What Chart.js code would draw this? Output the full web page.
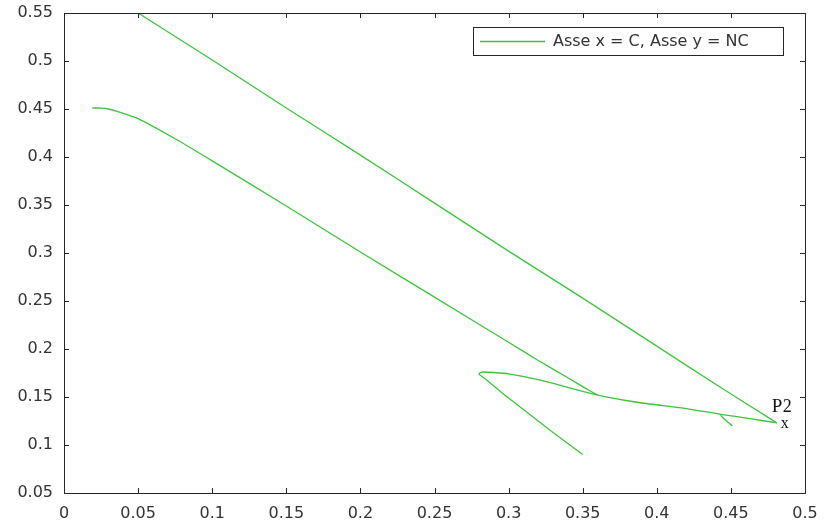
<!DOCTYPE html>
<html>
<head>
<meta charset="utf-8">
<script src="https://cdn.jsdelivr.net/npm/chart.js@4.4.0/dist/chart.umd.min.js"></script>
<style>
    html, body { margin: 0; padding: 0; background: #fff; }
    #wrap { width: 824px; height: 528px; }
</style>
</head>
<body>
<div id="wrap"><canvas id="curva"></canvas></div>
<script>
// Curva NC vs C - tratti della traiettoria
const serieLabel = 'Asse x = C, Asse y = NC';

const rettaAltaX = [0.050, 0.100, 0.150, 0.200, 0.250, 0.300, 0.350, 0.400, 0.440, 0.481];
const rettaAltaY = [0.550, 0.501, 0.451, 0.402, 0.352, 0.302, 0.253, 0.203, 0.163, 0.123];

const rettaBassaX = [0.019, 0.025, 0.030, 0.037, 0.050, 0.075, 0.100, 0.150, 0.200, 0.250, 0.300, 0.320, 0.340, 0.352, 0.360];
const rettaBassaY = [0.451, 0.451, 0.450, 0.447, 0.440, 0.419, 0.396, 0.349, 0.301, 0.254, 0.207, 0.188, 0.170, 0.159, 0.152];

const ansaX = [0.350, 0.330, 0.310, 0.295, 0.285, 0.280, 0.282, 0.290, 0.300, 0.320, 0.340, 0.360, 0.389, 0.420, 0.443, 0.465, 0.481];
const ansaY = [0.090, 0.113, 0.137, 0.155, 0.168, 0.174, 0.176, 0.1755, 0.174, 0.168, 0.160, 0.152, 0.144, 0.138, 0.132, 0.127, 0.123];

const uncinoX = [0.443, 0.447, 0.451];
const uncinoY = [0.131, 0.125, 0.120];

const xTicks = [0, 0.05, 0.1, 0.15, 0.2, 0.25, 0.3, 0.35, 0.4, 0.45, 0.5];
const yTicks = [0.05, 0.1, 0.15, 0.2, 0.25, 0.3, 0.35, 0.4, 0.45, 0.5, 0.55];

const puntoP2 = { x: 0.481, y: 0.123 };

const VERDE = '#3fc23f';
const TESTO = '#333333';
const FONT = '"DejaVu Sans", Arial, sans-serif';

function punti(xs, ys) {
    return xs.map((x, i) => ({ x: x, y: ys[i] }));
}

function tratto(label, xs, ys) {
    return {
        label: label,
        data: punti(xs, ys),
        showLine: true,
        borderColor: VERDE,
        backgroundColor: VERDE,
        borderWidth: 1.3,
        pointRadius: 0,
        tension: 0.2,
        fill: false
    };
}

// box assi, tacche interne, legenda ed etichetta P2
const riquadro = {
    id: 'riquadro',
    afterDraw(chart) {
        const { ctx, chartArea: a, scales } = chart;
        ctx.save();
        ctx.strokeStyle = '#262626';
        ctx.lineWidth = 1;
        ctx.strokeRect(Math.round(a.left) + 0.5, Math.round(a.top) + 0.5,
            Math.round(a.right - a.left), Math.round(a.bottom - a.top));

        ctx.beginPath();
        xTicks.forEach(v => {
            const px = Math.round(scales.x.getPixelForValue(v)) + 0.5;
            ctx.moveTo(px, a.bottom); ctx.lineTo(px, a.bottom - 5);
            ctx.moveTo(px, a.top); ctx.lineTo(px, a.top + 5);
        });
        yTicks.forEach(v => {
            const py = Math.round(scales.y.getPixelForValue(v)) + 0.5;
            ctx.moveTo(a.left, py); ctx.lineTo(a.left + 5, py);
            ctx.moveTo(a.right, py); ctx.lineTo(a.right - 5, py);
        });
        ctx.stroke();

        // legenda
        const lx = 473, ly = 27, lw = 310, lh = 28;
        ctx.fillStyle = '#fff';
        ctx.fillRect(lx, ly, lw, lh);
        ctx.strokeStyle = '#262626';
        ctx.strokeRect(lx + 0.5, ly + 0.5, lw, lh);
        ctx.strokeStyle = VERDE;
        ctx.lineWidth = 1.3;
        ctx.beginPath();
        ctx.moveTo(lx + 7, ly + 14.5);
        ctx.lineTo(lx + 72, ly + 14.5);
        ctx.stroke();
        ctx.fillStyle = TESTO;
        ctx.font = '16px ' + FONT;
        ctx.textBaseline = 'middle';
        ctx.textAlign = 'left';
        ctx.fillText(serieLabel, lx + 80, ly + 15);

        // etichetta del punto P2
        const px = scales.x.getPixelForValue(puntoP2.x);
        const py = scales.y.getPixelForValue(puntoP2.y);
        ctx.fillStyle = '#111';
        ctx.font = '19px "Liberation Serif", "Times New Roman", serif';
        ctx.textBaseline = 'alphabetic';
        ctx.fillText('P', px - 5, py - 11);
        ctx.font = '18px "Liberation Serif", "Times New Roman", serif';
        ctx.fillText('2', px + 6, py - 11);
        ctx.font = '16px "Liberation Serif", "Times New Roman", serif';
        ctx.textBaseline = 'middle';
        ctx.fillText('x', px + 4, py + 1);
        ctx.restore();
    }
};

function formatta(v) {
    return String(parseFloat(Number(v).toFixed(2)));
}

new Chart(document.getElementById('curva'), {
    type: 'scatter',
    data: {
        datasets: [
            tratto(serieLabel, rettaAltaX, rettaAltaY),
            tratto('', rettaBassaX, rettaBassaY),
            tratto('', ansaX, ansaY),
            tratto('', uncinoX, uncinoY)
        ]
    },
    options: {
        responsive: true,
        maintainAspectRatio: false,
        animation: false,
        layout: { padding: { top: 13, right: 19, left: 0, bottom: 0 } },
        plugins: {
            legend: { display: false },
            tooltip: { enabled: false }
        },
        scales: {
            x: {
                type: 'linear',
                min: 0,
                max: 0.5,
                grid: { display: false, drawTicks: true, tickLength: 11 },
                border: { display: false },
                afterBuildTicks: (s) => { s.ticks = xTicks.map(v => ({ value: v })); },
                afterFit: (s) => { s.height = 35; },
                ticks: {
                    color: TESTO,
                    font: { family: FONT, size: 16 },
                    padding: 0,
                    maxRotation: 0,
                    autoSkip: false,
                    callback: (v) => formatta(v)
                }
            },
            y: {
                type: 'linear',
                min: 0.05,
                max: 0.55,
                grid: { display: false, drawTicks: true, tickLength: 8 },
                border: { display: false },
                afterBuildTicks: (s) => { s.ticks = yTicks.map(v => ({ value: v })); },
                afterFit: (s) => { s.width = 64; },
                ticks: {
                    color: TESTO,
                    font: { family: FONT, size: 16 },
                    padding: 3,
                    autoSkip: false,
                    callback: (v) => formatta(v)
                }
            }
        }
    },
    plugins: [riquadro]
});
</script>
</body>
</html>
